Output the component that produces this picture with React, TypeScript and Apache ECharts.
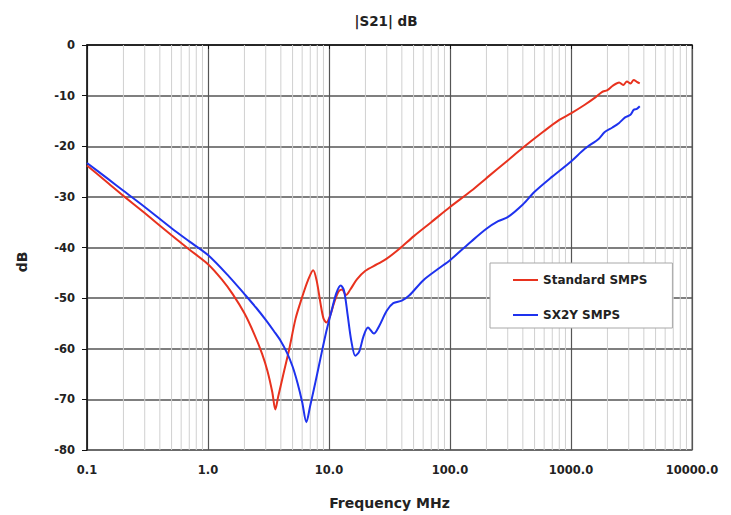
import React, { useEffect, useRef } from "react";
import * as echarts from "echarts";

const titleText = "|S21| dB";
const xAxisName = "Frequency MHz";
const yAxisName = "dB";
const seriesNames = ["Standard SMPS", "SX2Y SMPS"];

// [frequency MHz, |S21| dB]
const standardSmps: [number, number][] = [
  [0.1, -23.8], [0.15, -27.3], [0.2, -29.8], [0.3, -33.2], [0.5, -37.6], [0.7, -40.4],
  [1.0, -43.3], [1.3, -46.3], [1.6, -49.2], [2.0, -53], [2.4, -57], [2.8, -61],
  [3.1, -64.4], [3.4, -68.6], [3.6, -72], [3.8, -69.5], [4.2, -65], [4.7, -60],
  [5.3, -54], [6.0, -49.8], [6.7, -46.5], [7.4, -44.5], [7.9, -46.5], [8.5, -51],
  [9.0, -54], [9.5, -54.8], [10.2, -53.5], [11, -51], [12, -48.7], [12.8, -48.3],
  [13.8, -49.4], [15, -48.3], [17, -46.3], [20, -44.6], [25, -43.3], [30, -42.2],
  [38, -40.3], [50, -37.8], [70, -35], [100, -32], [150, -28.8], [200, -26.3],
  [300, -22.8], [400, -20.3], [600, -17], [800, -14.8], [1000, -13.5], [1300, -11.8],
  [1600, -10.3], [1800, -9.3], [2000, -8.9], [2200, -8.1], [2500, -7.4], [2700, -7.9],
  [2900, -7.2], [3100, -7.6], [3300, -6.9], [3500, -7.3], [3700, -7.6],
];

const sx2ySmps: [number, number][] = [
  [0.1, -23.3], [0.15, -26.5], [0.2, -28.8], [0.3, -32], [0.5, -36.2], [0.7, -38.8],
  [1.0, -41.5], [1.5, -45.8], [2.0, -49.2], [2.5, -51.9], [3.0, -54.3], [3.5, -56.5],
  [4.0, -58.5], [4.5, -60.8], [5.0, -63.5], [5.5, -66.8], [6.0, -70.5], [6.5, -74.5],
  [7.0, -71.2], [7.5, -68], [8.0, -64.9], [8.5, -61.9], [9.5, -56.6], [10.5, -52.5],
  [11.5, -49], [12.5, -47.5], [13.3, -48.5], [14.2, -53], [15.3, -58.5], [16.5, -61.4],
  [17.8, -60.5], [19.3, -57.5], [21, -55.8], [23.5, -57], [26, -55.5], [30, -52.5],
  [34, -51], [40, -50.5], [46, -49.5], [60, -46.5], [80, -44.2], [100, -42.5],
  [150, -38.8], [200, -36.3], [250, -34.8], [300, -34], [400, -31.5], [500, -29],
  [700, -26], [1000, -23], [1300, -20.5], [1700, -18.5], [1900, -17.2], [2200, -16.3],
  [2500, -15.4], [2800, -14.3], [3100, -13.8], [3300, -12.8], [3500, -12.6], [3700, -12.1],
];

const minorGridFreqs: number[] = [
  0.2, 0.3, 0.4, 0.5, 0.6, 0.7, 0.8, 0.9,
  2, 3, 4, 5, 6, 7, 8, 9,
  20, 30, 40, 50, 60, 70, 80, 90,
  200, 300, 400, 500, 600, 700, 800, 900,
  2000, 3000, 4000, 5000, 6000, 7000, 8000, 9000,
];

const xMin = 0.1;
const xMax = 10000;
const yMin = -80;
const yMax = 0;
const yInterval = 10;

const FONT = "DejaVu Sans";

export default function App() {
  const ref = useRef<HTMLDivElement>(null);
  useEffect(() => {
    if (!ref.current) return;
    const chart = echarts.init(ref.current, null, { renderer: "svg" });
    chart.setOption({
      animation: false,
      backgroundColor: "#ffffff",
      title: {
        text: titleText,
        left: 381,
        top: 9,
        textAlign: "center",
        textStyle: { fontFamily: FONT, fontSize: 13.5, fontWeight: "bold", color: "#222" },
      },
      grid: {
        left: 87,
        right: 39,
        top: 45,
        bottom: 63,
        show: true,
        borderColor: "#b0b0b0",
        borderWidth: 2,
      },
      legend: {
        orient: "vertical",
        left: 490,
        top: 263,
        data: seriesNames,
        backgroundColor: "#ffffff",
        borderColor: "#a8a8a8",
        borderWidth: 1,
        padding: [10, 25, 6, 23],
        itemGap: 21,
        itemWidth: 25,
        itemHeight: 2,
        icon: "rect",
        textStyle: { fontFamily: FONT, fontSize: 12, fontWeight: "bold", color: "#222", lineHeight: 14 },
      },
      graphic: [
        {
          type: "text",
          x: 22,
          y: 262,
          rotation: Math.PI / 2,
          style: {
            text: yAxisName,
            fontFamily: FONT,
            fontSize: 14,
            fontWeight: "bold",
            fill: "#222",
            align: "center",
            verticalAlign: "middle",
          },
        },
      ],
      xAxis: {
        type: "log",
        logBase: 10,
        min: xMin,
        max: xMax,
        name: xAxisName,
        nameLocation: "middle",
        nameGap: 46,
        nameTextStyle: { fontFamily: FONT, fontSize: 14, fontWeight: "bold", color: "#222" },
        axisLine: { show: true, lineStyle: { color: "#111", width: 1.5 } },
        axisTick: { show: true, inside: false, length: 4, lineStyle: { color: "#111" } },
        axisLabel: {
          margin: 14,
          fontFamily: FONT,
          fontSize: 11.5,
          fontWeight: "bold",
          color: "#222",
          showMaxLabel: true,
          showMinLabel: true,
          formatter: (v: number) => v.toFixed(1),
        },
        splitLine: { show: true, lineStyle: { color: "#555", width: 1.2 } },
      },
      yAxis: {
        type: "value",
        min: yMin,
        max: yMax,
        interval: yInterval,
        axisLine: { show: true, onZero: false, lineStyle: { color: "#111", width: 1.5 } },
        axisTick: { show: true, inside: false, length: 5, lineStyle: { color: "#111" } },
        axisLabel: {
          margin: 12,
          fontFamily: FONT,
          fontSize: 11.5,
          fontWeight: "bold",
          color: "#222",
        },
        splitLine: { show: true, lineStyle: { color: "#555", width: 1.5 } },
      },
      series: [
        {
          type: "custom",
          name: "minorGrid",
          silent: true,
          z: 1,
          clip: true,
          data: minorGridFreqs.map((f) => [f]),
          encode: { x: 0 },
          renderItem: (params: any, api: any) => {
            const f = api.value(0);
            const p1 = api.coord([f, yMin]);
            const p2 = api.coord([f, yMax]);
            return {
              type: "line",
              shape: { x1: p1[0], y1: p1[1], x2: p2[0], y2: p2[1] },
              style: { stroke: "#d0d0d0", lineWidth: 1 },
            };
          },
        },
        {
          type: "line",
          name: seriesNames[0],
          data: standardSmps,
          showSymbol: false,
          smooth: 0.3,
          z: 3,
          color: "#e8321e",
          lineStyle: { color: "#e8321e", width: 2 },
        },
        {
          type: "line",
          name: seriesNames[1],
          data: sx2ySmps,
          showSymbol: false,
          smooth: 0.3,
          z: 3,
          color: "#1e32ee",
          lineStyle: { color: "#1e32ee", width: 2 },
        },
      ],
    });
    return () => chart.dispose();
  }, []);
  return (
    <div
      ref={ref}
      style={{ position: "fixed", left: 0, top: 0, width: 731, height: 515, background: "#fff" }}
    />
  );
}
